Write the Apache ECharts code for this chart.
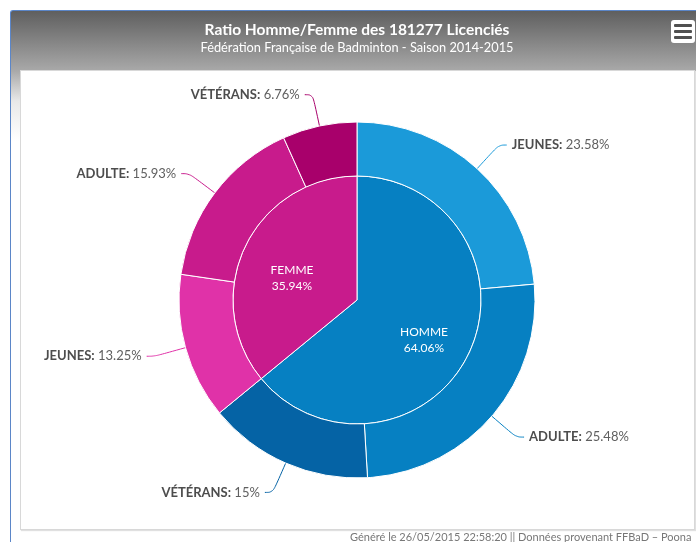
<!DOCTYPE html>
<html>
<head>
<meta charset="utf-8">
<script src="https://cdn.jsdelivr.net/npm/echarts@6/dist/echarts.min.js"></script>
<style>
html,body{margin:0;padding:0;width:696px;height:542px;overflow:hidden;background:#fff;}
#frame{position:absolute;left:10px;top:10px;width:700px;height:560px;border-left:1px solid #5b86c8;border-top:1px solid #5b86c8;border-top-left-radius:3px;
background:linear-gradient(to bottom,#5f5f5f 0px,#a9a9a9 60px,#e8e8e8 90px,#ffffff 130px);}
#panel{position:absolute;left:20px;top:70px;width:673px;height:458px;background:#fff;border:1px solid #d8d8d8;box-shadow:1px 1px 1px #e0e0e0;}
#menu{position:absolute;left:671px;top:20px;width:24px;height:23px;background:#fff;border-radius:3px;}
#menu div{position:absolute;left:3px;width:18px;height:3px;background:#505050;border-radius:1px;}
#chart{position:absolute;left:0;top:0;width:696px;height:542px;}
</style>
</head>
<body>
<div id="frame"></div>
<div id="panel"></div>
<div id="menu"><div style="top:4px"></div><div style="top:10px"></div><div style="top:16px"></div></div>
<div id="chart"></div>
<script>
var titleText = 'Ratio Homme/Femme des 181277 Licenciés';
var subtitleText = 'Fédération Française de Badminton - Saison 2014-2015';
var footerText = 'Généré le 26/05/2015 22:58:20 || Données provenant FFBaD – Poona';

var genres = ['HOMME', 'FEMME'];
var genreValues = [64.06, 35.94];
var genreColors = ['#0680c2', '#c81b8c'];

var categories = ['JEUNES', 'ADULTE', 'VÉTÉRANS', 'JEUNES', 'ADULTE', 'VÉTÉRANS'];
var categoryValues = [23.58, 25.48, 15, 13.25, 15.93, 6.76];
var categoryColors = ['#1b9ad9', '#0680c2', '#0563a5', '#e032a8', '#c81b8c', '#a8006b'];

var FONT = 'Lato, "Open Sans", sans-serif';
var CX = 357, CY = 300, R_IN = 124, R_OUT = 178;

var innerData = genres.map(function (g, i) {
  return { name: g, value: genreValues[i], itemStyle: { color: genreColors[i] } };
});
var outerData = categories.map(function (c, i) {
  return { name: c, value: categoryValues[i], itemStyle: { color: categoryColors[i] },
    labelLine: { lineStyle: { color: categoryColors[i] } } };
});

var chart = echarts.init(document.getElementById('chart'), null, { renderer: 'canvas' });
chart.setOption({
  backgroundColor: 'transparent',
  animation: false,
  title: {
    text: titleText,
    subtext: subtitleText,
    left: 352, top: 17, textAlign: 'center',
    itemGap: 3,
    textStyle: { color: '#ffffff', fontFamily: FONT, fontWeight: 'bold', fontSize: 15.5 },
    subtextStyle: { color: '#ffffff', fontFamily: FONT, fontSize: 12.8 }
  },
  graphic: [{
    type: 'text', left: 350, top: 532,
    style: { text: footerText, fill: '#777', font: '11px ' + FONT }
  }],
  series: [{
    type: 'pie',
    center: [CX, CY],
    radius: [0, R_IN],
    startAngle: 90,
    clockwise: true,
    selectedMode: false,
    data: innerData,
    itemStyle: { borderColor: '#ffffff', borderWidth: 1 },
    label: {
      position: 'inner',
      color: '#ffffff',
      fontFamily: FONT,
      fontSize: 12,
      lineHeight: 16,
      align: 'left',
      formatter: function (p) { return p.name + '\n' + p.value.toFixed(2) + '%'; }
    },
    labelLayout: function (p) {
      var r = p.labelRect;
      var lx = r.x + r.width / 2 - CX, ly = r.y + r.height / 2 - CY;
      var k = 73 / Math.sqrt(lx * lx + ly * ly) - 1;
      return { dx: lx * k + 1, dy: ly * k + 9 };
    },
    labelLine: { show: false }
  }, {
    type: 'pie',
    center: [CX, CY],
    radius: [R_IN, R_OUT],
    startAngle: 90,
    clockwise: true,
    selectedMode: false,
    avoidLabelOverlap: false,
    data: outerData,
    itemStyle: { borderColor: '#ffffff', borderWidth: 1 },
    label: {
      position: 'outside',
      fontFamily: FONT,
      fontSize: 13,
      formatter: function (p) { return '{b|' + p.name + ':} {v|' + p.value + '%}'; },
      rich: {
        b: { fontFamily: FONT, fontSize: 13, fontWeight: 'bold', color: '#4d4d4d',
             textShadowColor: 'rgba(255,255,255,0.8)', textShadowBlur: 2 },
        v: { fontFamily: FONT, fontSize: 13, color: '#606060' }
      },
      distanceToLabelLine: 5
    },
    labelLine: { show: true, length: 32, length2: 8, smooth: 0.4, lineStyle: { width: 1 } }
  }]
});
</script>
</body>
</html>
